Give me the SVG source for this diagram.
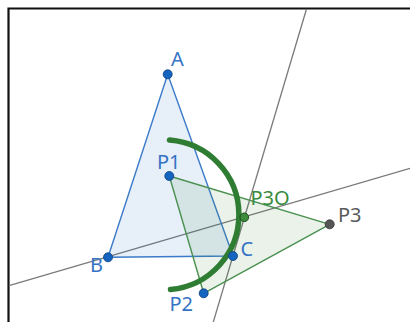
<svg xmlns="http://www.w3.org/2000/svg" width="410" height="322" viewBox="0 0 410 322">
  <style>
    .lbl { font-family: "Noto Sans", "Open Sans", sans-serif; font-size: 20px; }
    .blue { fill: #3473c4; }
    .green { fill: #3a8a3e; }
    .gray { fill: #5a5a5a; }
    .ln { stroke: #7a7a7a; stroke-width: 1.3; fill: none; }
    .bpt { fill: #1565c0; stroke: #0d3f7a; stroke-width: 0.8; }
  </style>
  <rect x="0" y="0" width="410" height="322" fill="#ffffff"/>
  <g id="frame">
    <path d="M8.5,322 V8.5 H410" fill="none" stroke="#111111" stroke-width="2.2"/>
  </g>
  <g id="connectors">
    <line class="ln" x1="9" y1="285.7" x2="410" y2="168.3"/>
    <line class="ln" x1="306.5" y1="9" x2="213.3" y2="322"/>
  </g>
  <g id="triangleABC">
    <polygon points="167.7,74.3 108,257.3 233,256" fill="#1565c0" fill-opacity="0.1" stroke="#3b7bc9" stroke-width="1.4" stroke-linejoin="round"/>
  </g>
  <g id="triangleP">
    <polygon points="169.3,176 203.7,293.3 329.7,224.3" fill="#2e7d32" fill-opacity="0.1" stroke="#4a9150" stroke-width="1.4" stroke-linejoin="round"/>
  </g>
  <g id="arc">
    <path d="M169.5,140 A75,75 0 0 1 170.5,289.5" fill="none" stroke="#2e7d32" stroke-width="5.5" stroke-linecap="round"/>
  </g>
  <g id="A"><circle class="bpt" cx="167.7" cy="74.3" r="4.5"/><text class="lbl blue" x="171" y="66">A</text></g>
  <g id="B"><circle class="bpt" cx="108" cy="257.3" r="4.5"/><text class="lbl blue" x="90" y="271.5">B</text></g>
  <g id="C"><circle class="bpt" cx="233" cy="256" r="4.5"/><text class="lbl blue" x="240.5" y="255.5">C</text></g>
  <g id="P1"><circle class="bpt" cx="169.3" cy="176" r="4.5"/><text class="lbl blue" x="157" y="168.5">P1</text></g>
  <g id="P2"><circle class="bpt" cx="203.7" cy="293.3" r="4.5"/><text class="lbl blue" x="169.5" y="311">P2</text></g>
  <g id="P3"><circle cx="329.7" cy="224.3" r="4.5" fill="#555555" stroke="#333333" stroke-width="0.8"/><text class="lbl gray" x="338" y="222">P3</text></g>
  <g id="P3O"><circle cx="244.3" cy="217.3" r="4.3" fill="#3c8c3c" stroke="#1b4d1e" stroke-width="1"/><text class="lbl green" x="250.5" y="205">P3O</text></g>
</svg>
